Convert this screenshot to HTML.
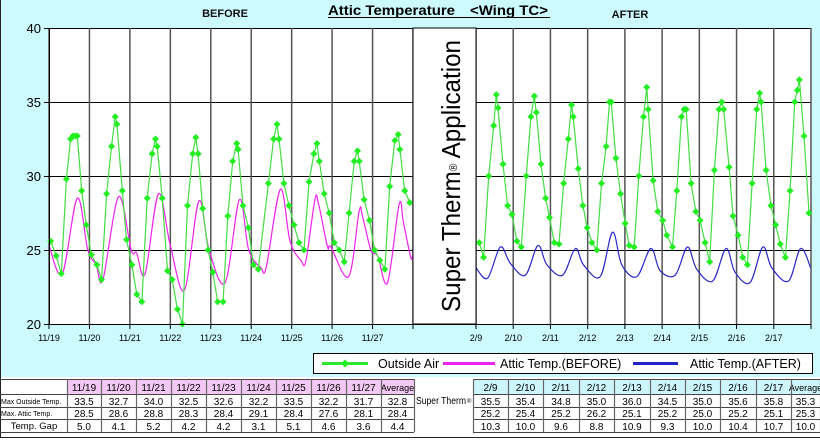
<!DOCTYPE html>
<html><head><meta charset="utf-8"><style>
body{margin:0;background:#fff;}
#wrap{position:relative;width:820px;height:443px;overflow:hidden;font-family:"Liberation Sans","Noto Sans CJK JP",sans-serif;}
svg text{font-family:"Liberation Sans","Noto Sans CJK JP",sans-serif;}
</style></head><body>
<div id="wrap">
<svg id="chart" width="820" height="443" viewBox="0 0 820 443" xmlns="http://www.w3.org/2000/svg">
<rect x="0" y="0" width="820" height="377" fill="#ccfafd"/>
<line x1="0.5" y1="0" x2="0.5" y2="438" stroke="#222"/>
<line x1="0" y1="437.5" x2="820" y2="437.5" stroke="#222"/>
<text x="438" y="15" text-anchor="middle" font-size="13.5" font-weight="bold" fill="#000" textLength="220" lengthAdjust="spacingAndGlyphs">Attic Temperature　&lt;Wing TC&gt;</text>
<line x1="328" y1="17.5" x2="550" y2="17.5" stroke="#000"/>
<text x="225" y="17" text-anchor="middle" font-size="11" font-weight="bold" fill="#111">BEFORE</text>
<text x="630" y="18" text-anchor="middle" font-size="11" font-weight="bold" fill="#111">AFTER</text>
<rect x="49" y="28" width="763" height="296" fill="#fff"/>
<g id="grid"></g>
<g id="series"></g>
<rect x="413" y="28" width="63" height="296" fill="#fff" stroke="#000" stroke-width="1"/>
<text transform="translate(460,176) rotate(-90)" text-anchor="middle" font-size="26" fill="#000" textLength="272" lengthAdjust="spacingAndGlyphs">Super Therm<tspan font-size="11" dy="-3">®</tspan><tspan dy="3"> Application</tspan></text>
<g id="axes"></g>
<rect x="313.5" y="353.5" width="499" height="20" fill="#fff" stroke="#000"/>
<line x1="322" y1="363.5" x2="368" y2="363.5" stroke="#2ee82e" stroke-width="3"/>
<path d="M345 359.5 L349 363.5 L345 367.5 L341 363.5Z" fill="#22ee22"/>
<text x="378" y="368" font-size="12.5" fill="#000">Outside Air</text>
<line x1="443" y1="363.5" x2="495" y2="363.5" stroke="#ee22ee" stroke-width="3"/>
<text x="500" y="368" font-size="12.5" fill="#000">Attic Temp.(BEFORE)</text>
<line x1="633" y1="363.5" x2="678" y2="363.5" stroke="#2222cc" stroke-width="3"/>
<text x="690" y="368" font-size="12.5" fill="#000">Attic Temp.(AFTER)</text>
<g id="tables"></g>
</svg>
</div>
<script>
// ---- chart data (hours from first day 00:00, temperature °C) ----
const beforeDays = ["11/19","11/20","11/21","11/22","11/23","11/24","11/25","11/26","11/27"];
const afterDays = ["2/9","2/10","2/11","2/12","2/13","2/14","2/15","2/16","2/17"];
const yTicks = [20,25,30,35,40];
const outBeforeHours = [1.0,4.3,7.3,10.3,12.8,14.2,15.6,16.8,19.4,22.1,25.1,28.4,31.2,34.2,37.1,39.3,40.3,43.5,46.0,49.2,52.1,55.1,58.3,61.2,63.2,64.2,67.2,70.3,73.1,76.2,79.2,82.2,85.3,87.1,88.5,91.2,94.4,97.2,100.1,103.3,106.1,109.0,111.4,112.2,115.1,118.3,121.3,124.2,130.2,133.3,135.3,136.5,139.4,142.4,145.4,148.3,151.3,154.3,157.2,159.0,160.4,163.3,166.3,169.3,172.2,175.2,178.1,181.1,183.1,184.1,187.0,190.2,193.2,196.3,199.3,202.2,205.2,207.2,208.2,211.1,214.1];
const outBeforeTemps = [25.6,24.6,23.4,29.8,32.5,32.7,32.7,32.7,29.0,26.7,24.7,24.0,23.0,28.8,32.0,34.0,33.5,29.0,25.7,24.0,22.0,21.5,28.5,31.5,32.5,32.0,28.5,23.6,23.0,21.0,20.0,28.0,31.5,32.6,31.5,27.8,25.0,23.5,21.5,21.5,27.3,31.0,32.2,31.8,28.0,26.5,24.0,23.7,29.5,32.5,33.5,32.5,29.5,28.0,26.7,25.5,25.0,29.6,31.5,32.2,31.0,28.8,27.5,25.5,25.0,24.2,27.5,31.0,31.7,31.0,28.4,27.0,25.0,24.3,23.7,29.3,32.4,32.8,31.8,29.0,28.2];
const atticBeforeHours = [0,7.9,16.8,23,28,32,41.3,48.8,52,57,65,72,80.4,88.9,95,104.5,113,118.5,125.8,129,137.3,143,149.5,152.5,157.8,160,165.3,167.3,177.8,184,186,191,195,200.9,207.8,210.4,214.7,216];
const atticBeforeTemps = [25.3,23.4,28.5,25.0,24.0,23.0,28.6,25.0,24.8,23.4,28.8,25.3,22.3,28.3,25.0,22.8,28.4,25.0,23.8,23.9,29.1,25.6,24.3,24.3,28.4,28.1,25.2,25.2,23.2,27.6,27.3,25.0,24.6,22.8,28.1,26.8,24.5,24.7];
const outAfterHours = [2.1,4.9,8.2,11.4,13.1,14.2,17.4,20.4,23.2,26.4,29.2,32.4,35.4,37.6,38.9,41.9,44.9,47.4,50.5,53.5,56.5,59.5,61.6,62.7,65.9,68.9,71.7,74.7,77.9,80.9,83.9,86.1,87.2,90.2,93.2,96.2,98.8,102.0,105.0,108.0,110.1,111.0,114.2,117.2,120.4,123.0,126.7,129.5,132.5,134.2,135.5,138.7,141.7,144.5,147.7,150.7,153.7,156.7,158.4,159.7,163.2,165.7,169.0,172.0,175.0,178.0,181.0,182.9,183.8,187.0,190.2,193.2,196.2,199.5,202.5,205.5,207.2,208.5,211.5,214.7];
const outAfterTemps = [25.5,24.5,30.0,33.4,35.5,34.6,30.8,28.0,27.4,25.6,25.2,30.0,34.0,35.4,34.3,30.8,28.5,27.2,25.5,25.4,29.5,32.5,34.8,34.0,30.5,28.0,26.5,25.5,25.0,29.5,32.0,35.0,35.0,31.2,28.8,26.8,25.3,25.2,30.0,34.0,36.0,34.5,29.7,27.6,27.0,26.0,25.2,29.0,34.0,34.5,34.5,29.5,27.6,27.0,25.5,24.2,30.4,34.5,35.0,34.5,30.6,27.3,26.0,24.5,24.0,29.5,34.5,35.6,35.0,30.4,28.0,26.7,25.4,24.5,29.0,35.0,35.8,36.5,32.7,27.5];
const atticAfterHours = [0,7.5,15.7,22.1,31.8,39.9,45.7,55.8,64,69.3,80.1,88,94,103.7,112.7,118.7,128.4,136.3,142.3,152.6,161.2,167,176.7,184.9,190.7,201.4,209.3,215.8];
const atticAfterTemps = [23.8,23.1,25.2,24.1,23.3,25.3,24.0,23.3,25.1,24.0,23.2,26.2,24.0,23.2,25.1,23.6,23.3,25.2,23.7,22.9,25.1,23.5,22.8,25.2,23.8,22.9,25.1,23.8];
// table data
const beforeMaxOut = ["33.5","32.7","34.0","32.5","32.6","32.2","33.5","32.2","31.7","32.8"];
const beforeMaxAttic = ["28.5","28.6","28.8","28.3","28.4","29.1","28.4","27.6","28.1","28.4"];
const beforeGap = ["5.0","4.1","5.2","4.2","4.2","3.1","5.1","4.6","3.6","4.4"];
const afterMaxOut = ["35.5","35.4","34.8","35.0","36.0","34.5","35.0","35.6","35.8","35.3"];
const afterMaxAttic = ["25.2","25.4","25.2","26.2","25.1","25.2","25.0","25.2","25.1","25.3"];
const afterGap = ["10.3","10.0","9.6","8.8","10.9","9.3","10.0","10.4","10.7","10.0"];

const NS="http://www.w3.org/2000/svg";
const PT=28, PB=324, L0=49, L1=413, R0=476, R1=811;
function y(v){return PB-(v-20)*(PB-PT)/20;}
function xB(h){return L0+h*(L1-L0)/216;}
function xA(h){return R0+h*(R1-R0)/216;}
function mk(tag,attrs,parent){const e=document.createElementNS(NS,tag);for(const k in attrs)e.setAttribute(k,attrs[k]);parent.appendChild(e);return e;}
const grid=document.getElementById('grid'), series=document.getElementById('series'), axes=document.getElementById('axes'), tables=document.getElementById('tables');

yTicks.forEach(t=>{
  const ln=mk('line',{x1:L0,x2:R1,y1:y(t)+0.5,y2:y(t)+0.5,stroke:'#000','stroke-width':1},grid);
  
  
  const tk=mk('line',{x1:L0-5,x2:L0,y1:y(t)+0.5,y2:y(t)+0.5,stroke:'#000'},axes);
  
  
  const tx=mk('text',{x:L0-8,y:y(t)+5,'text-anchor':'end','font-size':13,fill:'#000'},axes);
  tx.textContent=t;
  
  
});
function dayAxis(days,xf,tag){
  for(let i=0;i<=days.length;i++){
    const x=xf(i*24);
    const g=mk('line',{x1:x,x2:x,y1:PT,y2:PB,stroke:'#555','stroke-width':1.5},grid);
    
    
    const tk=mk('line',{x1:x,x2:x,y1:PB,y2:PB+5,stroke:'#000'},axes);
    
    
    if(i<days.length){
      const t=mk('text',{x:x,y:PB+17,'text-anchor':'middle','font-size':9,fill:'#000'},axes);
      t.textContent=days[i];
      
      
    }
  }
}
dayAxis(beforeDays,xB,'before');
dayAxis(afterDays,xA,'after');
const xa=mk('line',{x1:L0,x2:R1,y1:PB+0.5,y2:PB+0.5,stroke:'#000'},axes);


const ya=mk('line',{x1:L0+0.5,x2:L0+0.5,y1:PT,y2:PB,stroke:'#000'},axes);



function smooth(hs,vs,xf){
  const p=hs.map((h,i)=>[xf(h),y(vs[i])]);
  let d='M'+p[0][0].toFixed(1)+' '+p[0][1].toFixed(1);
  for(let i=0;i<p.length-1;i++){
    const p0=p[i-1]||p[i],p1=p[i],p2=p[i+1],p3=p[i+2]||p2;
    const c1=[p1[0]+(p2[0]-p0[0])/6,p1[1]+(p2[1]-p0[1])/6];
    const c2=[p2[0]-(p3[0]-p1[0])/6,p2[1]-(p3[1]-p1[1])/6];
    d+=' C'+c1[0].toFixed(1)+' '+c1[1].toFixed(1)+' '+c2[0].toFixed(1)+' '+c2[1].toFixed(1)+' '+p2[0].toFixed(1)+' '+p2[1].toFixed(1);
  }
  return d;
}
const pb=mk('path',{d:smooth(atticBeforeHours,atticBeforeTemps,xB),fill:'none',stroke:'#ee22ee','stroke-width':1.2},series);


const pa=mk('path',{d:smooth(atticAfterHours,atticAfterTemps,xA),fill:'none',stroke:'#2828c8','stroke-width':1.2},series);


function outside(hs,vs,xf,tag){
  const pts=hs.map((h,i)=>xf(h).toFixed(1)+','+y(vs[i]).toFixed(1)).join(' ');
  const l=mk('polyline',{points:pts,fill:'none',stroke:'#44dd44','stroke-width':1.2},series);
  
  
  hs.forEach((h,i)=>{
    const cx=xf(h),cy=y(vs[i]);
    const m=mk('path',{d:`M${cx} ${cy-3.5} L${cx+3.5} ${cy} L${cx} ${cy+3.5} L${cx-3.5} ${cy}Z`,fill:'#22ee22'},series);
    
    
  });
}
outside(outBeforeHours,outBeforeTemps,xB,'before');
outside(outAfterHours,outAfterTemps,xA,'after');

// tables
const rowsY=[379,394,407,419,432];
function cellText(x,yy,txt,size,name,anchor){
  const t=mk('text',{x:x,y:yy,'text-anchor':anchor||'middle','font-size':size,fill:'#000'},tables);
  t.textContent=txt;
  
  
  return t;
}
function table(x0,colEdges,headers,rows,hdrFill,tag){
  const xs=colEdges;
  for(let c=0;c<headers.length;c++){
    const r=mk('rect',{x:xs[c],y:rowsY[0],width:xs[c+1]-xs[c],height:rowsY[1]-rowsY[0],fill:hdrFill},tables);
    
    
    cellText((xs[c]+xs[c+1])/2,rowsY[1]-3,headers[c],c==headers.length-1?9:10,tag+'-header-'+headers[c].replace('/','-'));
  }
  rows.forEach((row,ri)=>{
    row.forEach((v,c)=>cellText((xs[c]+xs[c+1])/2,rowsY[ri+2]-2,v,10,tag+'-row'+(ri+1)+'-value'));
  });
  for(let i=0;i<rowsY.length;i++){
    const l=mk('line',{x1:x0,x2:xs[xs.length-1],y1:rowsY[i]+0.5,y2:rowsY[i]+0.5,stroke:'#444'},tables);
    
    
  }
  xs.forEach(x=>{
    const l=mk('line',{x1:x+0.5,x2:x+0.5,y1:rowsY[0],y2:rowsY[4],stroke:'#666','stroke-width':1.2},tables);
    
    
  });
}
table(0,[67,101,136,171,206,241,276,311,346,381,414],beforeDays.concat(["Average"]),[beforeMaxOut,beforeMaxAttic,beforeGap],'#f4c8f4','before-table');
table(473,[473,508,543,579,614,650,685,720,756,791,820],afterDays.concat(["Average"]),[afterMaxOut,afterMaxAttic,afterGap],'#ccf6fb','after-table');
const lt=mk('line',{x1:0,x2:67,y1:379.5,y2:379.5,stroke:'#444'},tables);


const sb=mk('line',{x1:414.5,x2:414.5,y1:379,y2:432,stroke:'#666'},tables);


for(let i=1;i<4;i++){
  const l=mk('line',{x1:0,x2:67,y1:rowsY[i]+0.5,y2:rowsY[i]+0.5,stroke:'#444'},tables);
  
  
}
cellText(1,404,'Max Outside Temp.',7,'row-label-max-outside','start');
cellText(1,416,'Max. Attic Temp.',7,'row-label-max-attic','start');
cellText(34,429,'Temp. Gap',9.5,'row-label-temp-gap');
const st=cellText(416,404,'Super Therm',10,'super-therm-label','start');
st.setAttribute('textLength','50');
st.setAttribute('lengthAdjust','spacingAndGlyphs');
cellText(467,403,'®',6,'super-therm-registered','start');
</script>
</body></html>
